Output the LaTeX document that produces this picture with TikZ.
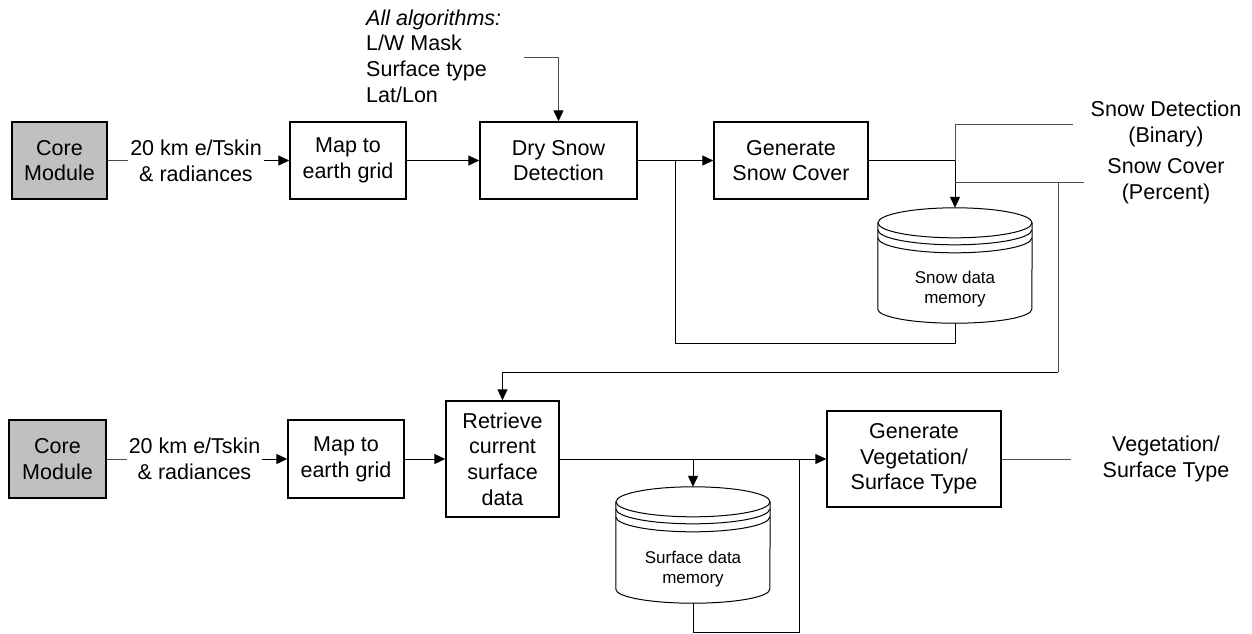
\documentclass[tikz,border=0pt]{standalone}
\usepackage{fontspec}
\setmainfont{Liberation Sans}
\usetikzlibrary{arrows.meta}
\definecolor{corefill}{HTML}{C0C0C0}
\newcommand{\storeshape}[1]{%
  \fill[white] ([yshift=-15pt]#1.north west) -- ([yshift=14pt]#1.south west)
     arc[start angle=180,end angle=360,x radius=77pt,y radius=14pt]
     -- ([yshift=-15pt]#1.north east)
     arc[start angle=0,end angle=180,x radius=77pt,y radius=15pt] -- cycle;
  \draw[line width=1pt] ([yshift=-15pt]#1.north west) -- ([yshift=14pt]#1.south west)
     arc[start angle=180,end angle=360,x radius=77pt,y radius=14pt]
     -- ([yshift=-15pt]#1.north east);
  \draw[line width=1pt] ([yshift=-15pt]#1.north) ellipse [x radius=77pt,y radius=15pt];
  \draw[line width=1pt] ([yshift=-22pt]#1.north west) arc[start angle=180,end angle=360,x radius=77pt,y radius=15pt];
  \draw[line width=1pt] ([yshift=-30pt]#1.north west) arc[start angle=180,end angle=360,x radius=77pt,y radius=15pt];
}
\begin{document}
\begin{tikzpicture}[x=1pt,y=-1pt,
  every node/.style={font=\fontsize{21.5}{25.7}\selectfont, align=center, inner sep=0pt},
  box/.style={draw, line width=1.4pt, fill=white},
  corebox/.style={box, fill=corefill},
  small/.style={font=\fontsize{17}{20}\selectfont},
  lbl/.style={inner xsep=2pt},
  ln/.style={line width=1pt},
  thin/.style={line width=0.9pt, draw=black!70},
  tip/.style={-{Triangle[length=11pt,width=10pt,color=black]}},
  arr/.style={ln, tip},
  store/.style={draw=none, minimum width=154pt}
]
\useasboundingbox (0,0) rectangle (1252,633);

% ---------- nodes, top row ----------
\node[corebox, minimum width=95pt, minimum height=77pt] (core1) at (59.5,160.5) {Core\\Module};
\node[lbl] (lbl1) at (196,160.5) {20 km e/Tskin\\\& radiances};
\node[box, minimum width=116pt, minimum height=77pt] (map1) at (348,160.5) {Map to\\earth grid};
\node[box, minimum width=157pt, minimum height=77pt] (dry) at (558.5,160.5) {Dry Snow\\Detection};
\node[box, minimum width=154pt, minimum height=77pt] (gen) at (791,160.5) {Generate\\Snow Cover};
\node[anchor=west, align=left] (alg) at (366,56) {\textit{All algorithms:}\\L/W Mask\\Surface type\\Lat/Lon};

\node[store, minimum height=115pt] (snowmem) at (955,265.5) {};
\storeshape{snowmem}
\node[small] (snowtxt) at (955,289) {Snow data\\memory};

\node (snowdet) at (1166,124) {Snow Detection\\(Binary)};
\node (snowcov) at (1166,181) {Snow Cover\\(Percent)};

% ---------- nodes, bottom row ----------
\node[corebox, minimum width=97pt, minimum height=78pt] (core2) at (57.5,459) {Core\\Module};
\node[lbl] (lbl2) at (194.5,459) {20 km e/Tskin\\\& radiances};
\node[box, minimum width=116pt, minimum height=78pt] (map2) at (346,459) {Map to\\earth grid};
\node[box, minimum width=113pt, minimum height=116pt] (ret) at (502.5,459) {Retrieve\\current\\surface\\data};
\node[box, minimum width=174pt, minimum height=96pt] (veg) at (914,459) {Generate\\Vegetation/\\Surface Type};

\node[store, minimum height=116pt] (surfmem) at (693,545) {};
\storeshape{surfmem}
\node[small] (surftxt) at (693,569) {Surface data\\memory};

\node (vegout) at (1166,459) {Vegetation/\\Surface Type};

% ---------- coordinates ----------
\coordinate (algin) at (524,57);
\coordinate (j1) at (675,160.5);
\coordinate (j2) at (955,160.5);
\coordinate (o1) at (1073,124);
\coordinate (o2) at (1084,182);
\coordinate (sc) at (1058,182);
\coordinate (lp1) at (675,343);
\coordinate (rt) at (502.5,372);
\coordinate (j3) at (693,459);
\coordinate (j4) at (799,459);
\coordinate (lp2) at (799,632);
\coordinate (o3) at (1071,459);

% ---------- connectors, top ----------
\draw[thin] (core1.east) -- (lbl1.west);
\draw[arr] (lbl1.east) -- (map1.west);
\draw[arr] (map1.east) -- (dry.west);
\draw[thin, tip] (algin) -| (dry.north);
\draw[arr] (dry.east) -- (gen.west);
\draw[ln] (gen.east) -- (j2);
\draw[thin] (j2) |- (o1);
\draw[arr] (j2) -- (snowmem.north);
\draw[thin] (j2 |- o2) -- (o2);
\draw[ln] (snowmem.south) |- (lp1) -- (j1);
\draw[thin] (sc) -- (sc |- rt);
\draw[arr] (sc |- rt) -- (rt) -- (ret.north);

% ---------- connectors, bottom ----------
\draw[thin] (core2.east) -- (lbl2.west);
\draw[arr] (lbl2.east) -- (map2.west);
\draw[arr] (map2.east) -- (ret.west);
\draw[arr] (ret.east) -- (veg.west);
\draw[arr] (j3) -- (surfmem.north);
\draw[ln] (surfmem.south) |- (lp2) -- (j4);
\draw[thin] (veg.east) -- (o3);
\end{tikzpicture}
\end{document}
